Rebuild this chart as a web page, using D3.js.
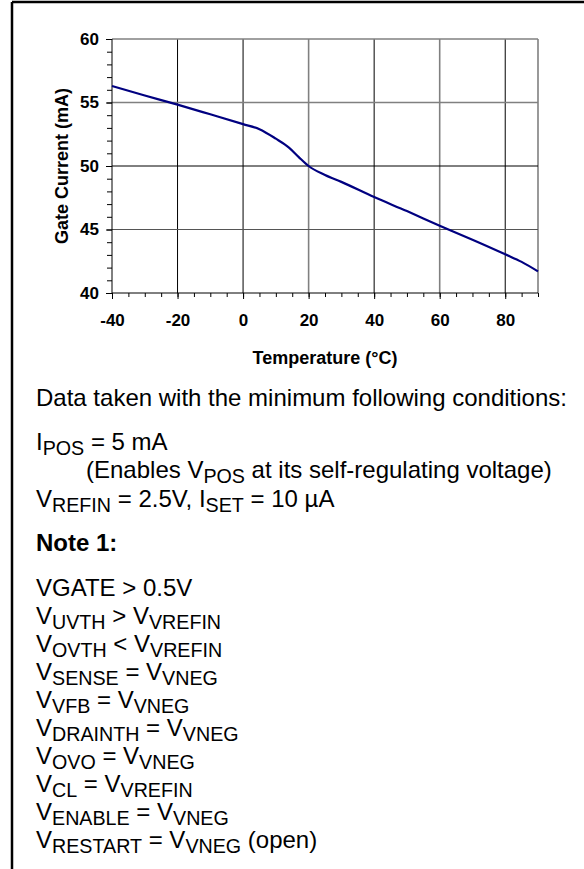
<!DOCTYPE html>
<html>
<head>
<meta charset="utf-8">
<script src="https://cdn.jsdelivr.net/npm/d3@7"></script>
<style>
body { margin: 0; background: #fff; }
text { font-family: Arial, "Liberation Sans", sans-serif; }
</style>
</head>
<body>
<script>
// gate current vs temperature
var temps   = [-40, -30, -20, -10, 0, 5, 10, 14, 17, 20, 25, 30, 40, 50, 60, 70, 80, 85, 90];
var current = [56.3, 55.55, 54.83, 54.07, 53.3, 52.9, 52.15, 51.45, 50.7, 50.0, 49.3, 48.75, 47.55, 46.45, 45.3, 44.2, 43.05, 42.45, 41.7];

var xTicks = [-40, -20, 0, 20, 40, 60, 80];
var yTicks = [40, 45, 50, 55, 60];

// notes under the chart, _{..} marks a subscript
var noteLines = [
    'I_{POS} = 5 mA',
    '(Enables V_{POS} at its self-regulating voltage)',
    'V_{REFIN} = 2.5V, I_{SET} = 10 µA'
];
var condLines = [
    'VGATE > 0.5V',
    'V_{UVTH} > V_{VREFIN}',
    'V_{OVTH} < V_{VREFIN}',
    'V_{SENSE} = V_{VNEG}',
    'V_{VFB} = V_{VNEG}',
    'V_{DRAINTH} = V_{VNEG}',
    'V_{OVO} = V_{VNEG}',
    'V_{CL} = V_{VREFIN}',
    'V_{ENABLE} = V_{VNEG}',
    'V_{RESTART} = V_{VNEG} (open)'
];

var W = 584, H = 869;
var svg = d3.select('body').append('svg').attr('width', W).attr('height', H);

// frame (top and left only)
svg.append('line').attr('x1', 12).attr('y1', 2).attr('x2', W).attr('y2', 2)
    .attr('stroke', '#000').attr('stroke-width', 2.5);
svg.append('line').attr('x1', 12).attr('y1', 2).attr('x2', 12).attr('y2', H)
    .attr('stroke', '#000').attr('stroke-width', 2.5);

var x = d3.scaleLinear().domain([-40, 90]).range([112, 538]);
var y = d3.scaleLinear().domain([40, 60]).range([293, 39]);

var g = svg.append('g');

// grid
var vGrid = xTicks.slice(1).concat([90]);
g.selectAll('.vg').data(vGrid).enter().append('line')
    .attr('x1', function(d) { return x(d); })
    .attr('x2', function(d) { return x(d); })
    .attr('y1', y(40)).attr('y2', y(60))
    .attr('stroke', function(d) { return (d === 20 || d === 60 || d === 90) ? '#808080' : '#000'; })
    .attr('stroke-width', function(d) { return (d === 20 || d === 60 || d === 90) ? 1.6 : 1; });
g.selectAll('.hg').data(yTicks.slice(1)).enter().append('line')
    .attr('x1', x(-40)).attr('x2', x(90))
    .attr('y1', function(d) { return y(d); })
    .attr('y2', function(d) { return y(d); })
    .attr('stroke', function(d) { return (d === 55 || d === 60) ? '#808080' : (d === 45 ? '#555' : '#000'); })
    .attr('stroke-width', function(d) { return (d === 55 || d === 60) ? 1.6 : 1; });

// minor ticks
var xMinor = d3.range(-40, 91, 5);
var yMinor = d3.range(40, 61, 1);
g.append('g').attr('transform', 'translate(0,' + y(40) + ')')
    .call(d3.axisBottom(x).tickValues(xMinor).tickSize(4).tickFormat(''))
    .call(function(s) { s.select('.domain').remove(); });
g.append('g').attr('transform', 'translate(' + x(-40) + ',0)')
    .call(d3.axisLeft(y).tickValues(yMinor).tickSize(5).tickFormat(''))
    .call(function(s) { s.select('.domain').remove(); });

// major axes
var plain = function(d) { return String(d); };
var xAxis = g.append('g').attr('transform', 'translate(0,' + y(40) + ')')
    .call(d3.axisBottom(x).tickValues(xTicks).tickSize(6).tickPadding(15).tickSizeOuter(0).tickFormat(plain));
var yAxis = g.append('g').attr('transform', 'translate(' + x(-40) + ',0)')
    .call(d3.axisLeft(y).tickValues(yTicks).tickSize(6).tickPadding(7).tickSizeOuter(0).tickFormat(plain));

[xAxis, yAxis].forEach(function(a) {
    a.selectAll('text').attr('font-family', 'Arial, "Liberation Sans", sans-serif')
        .attr('font-size', 17).attr('font-weight', 'bold').attr('fill', '#000');
});
xAxis.select('.domain').attr('d', 'M' + x(-40) + ',0H' + x(90));
yAxis.select('.domain').attr('d', 'M0,' + y(40) + 'V' + y(60));

// curve
var pts = temps.map(function(t, i) { return [t, current[i]]; });
g.append('path').datum(pts)
    .attr('fill', 'none').attr('stroke', '#000080').attr('stroke-width', 2.2)
    .attr('d', d3.line()
        .x(function(d) { return x(d[0]); })
        .y(function(d) { return y(d[1]); })
        .curve(d3.curveMonotoneX));

// axis titles
svg.append('text').attr('x', 325).attr('y', 364).attr('text-anchor', 'middle')
    .attr('font-size', 18).attr('font-weight', 'bold').text('Temperature (°C)');
svg.append('text').attr('transform', 'translate(68,166) rotate(-90)').attr('text-anchor', 'middle')
    .attr('font-size', 18).attr('font-weight', 'bold').text('Gate Current (mA)');

// text block
function richLine(sel, str, px, py, size) {
    var t = sel.append('text').attr('x', px).attr('y', py).attr('font-size', size);
    var parts = str.split(/(_\{[^}]*\})/);
    var down = false;
    var shift = size * 0.2;
    parts.forEach(function(p) {
        if (!p) return;
        if (p.indexOf('_{') === 0) {
            t.append('tspan').attr('dy', down ? 0 : shift)
                .attr('font-size', size * 0.82).text(p.slice(2, -1));
            down = true;
        } else {
            t.append('tspan').attr('dy', down ? -shift : 0).text(p);
            down = false;
        }
    });
    return t;
}

var fs = 24;
svg.append('text').attr('x', 36).attr('y', 406).attr('font-size', fs)
    .text('Data taken with the minimum following conditions:');
var noteY = [450, 478, 507];
var noteX = [36, 86, 36];
noteLines.forEach(function(s, i) { richLine(svg, s, noteX[i], noteY[i], fs); });
svg.append('text').attr('x', 36).attr('y', 551).attr('font-size', fs)
    .attr('font-weight', 'bold').text('Note 1:');
condLines.forEach(function(s, i) { richLine(svg, s, 36, 596 + i * 28, fs); });
</script>
</body>
</html>
